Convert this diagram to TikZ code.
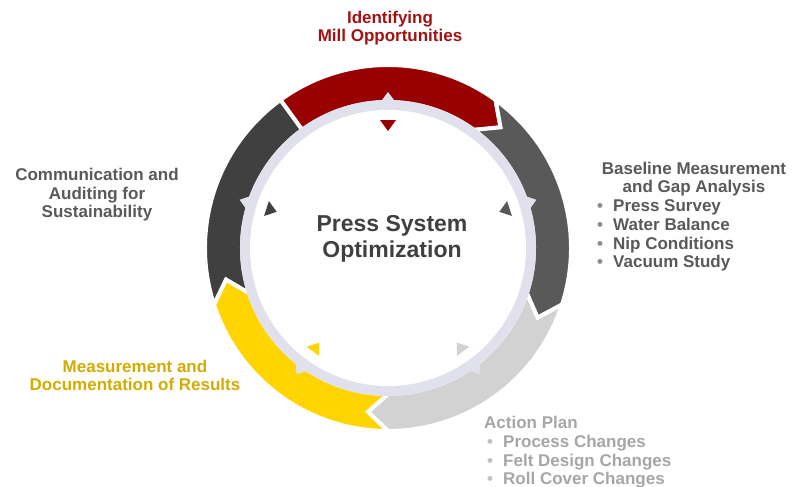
\documentclass[tikz,border=0pt]{standalone}
\usepackage{fontspec}
\setmainfont{Liberation Sans}
\usepackage{tikz}
\definecolor{ruby}{RGB}{153, 0, 0}
\definecolor{rubytext}{RGB}{163, 18, 18}
\definecolor{slate}{RGB}{89, 89, 89}
\definecolor{silver}{RGB}{210, 210, 210}
\definecolor{silvertext}{RGB}{166, 166, 166}
\definecolor{sunflower}{RGB}{255, 212, 0}
\definecolor{sunflowertext}{RGB}{212, 172, 0}
\definecolor{charcoal}{RGB}{64, 64, 64}
\definecolor{lavender}{RGB}{225, 225, 237}

\tikzset{
  ringgap/.style={draw=white, line width=4pt, line join=miter},
  steptext/.style={font=\fontsize{17}{18.7}\selectfont\bfseries, align=center, inner sep=0pt, anchor=base},
  listtext/.style={font=\fontsize{17}{18.7}\selectfont\bfseries, align=left, inner sep=0pt, anchor=base west},
  hubtext/.style={font=\fontsize{23}{26}\selectfont\bfseries, align=center, inner sep=0pt, anchor=base, text=charcoal}
}
% one piece of the cycle: colour, start angle, end angle, notch offset, tip offset
\newcommand{\cyclepiece}[5]{%
  \filldraw[fill=#1, ringgap] (#2:183) arc[start angle=#2, end angle=#3, radius=183]
    -- ({#3-#5}:165) -- (#3:146) arc[start angle=#3, end angle=#2, radius=146]
    -- ({#2-#4}:165) -- cycle;}
\newcommand{\bul}{\makebox[16pt][l]{\textcolor{.!70!white}{\textbullet}}}

\begin{document}
\begin{tikzpicture}[x=1pt, y=1pt]
  % Frame to fix the page size
  \useasboundingbox (0,0) rectangle (793,487);
  \begin{scope}[shift={(388,239)}]
    % Cycle pieces
    \cyclepiece{ruby}{126}{54}{0}{7}
    \cyclepiece{slate}{54}{-18}{7}{7}
    \cyclepiece{silver}{-18}{-90}{7}{7}
    \cyclepiece{sunflower}{-90}{-162}{7}{7}
    \cyclepiece{charcoal}{198}{126}{7}{0}
    % Inner ring & teeth
    \fill[lavender] (0,0) circle (148);
    \foreach \a in {90,18,-54,-126,162}
      \fill[lavender] ({\a-3}:146) -- (\a:156) -- ({\a+3}:146) -- cycle;
    \fill[white] (0,0) circle (138);
    % Small markers
    \foreach \a/\c in {90/ruby, 18/slate, -54/silver, -126/sunflower, 162/charcoal}
      \fill[\c] ({\a-3.5}:128) -- (\a:117) -- ({\a+3.5}:128) -- cycle;
  \end{scope}
  % Hub
  \node[hubtext] (hub) at (392,229) {Press System\\Optimization};
  % Step labels (base = last line)
  \node[steptext, text=rubytext] (identify) at (390,445) {Identifying\\Mill Opportunities};
  \node[steptext, text=slate] (baseline) at (694,294) {Baseline Measurement\\and Gap Analysis};
  \node[listtext, text=slate] (baselist) at (597,219) {\bul Press Survey\\\bul Water Balance\\\bul Nip Conditions\\\bul Vacuum Study};
  \node[listtext, text=silvertext] (action) at (484,2) {Action Plan\\\hspace*{3pt}\bul Process Changes\\\hspace*{3pt}\bul Felt Design Changes\\\hspace*{3pt}\bul Roll Cover Changes};
  \node[steptext, text=sunflowertext] (measure) at (135,96) {Measurement and\\Documentation of Results};
  \node[steptext, text=slate] (audit) at (97,269) {Communication and\\Auditing for\\Sustainability};
\end{tikzpicture}
\end{document}
